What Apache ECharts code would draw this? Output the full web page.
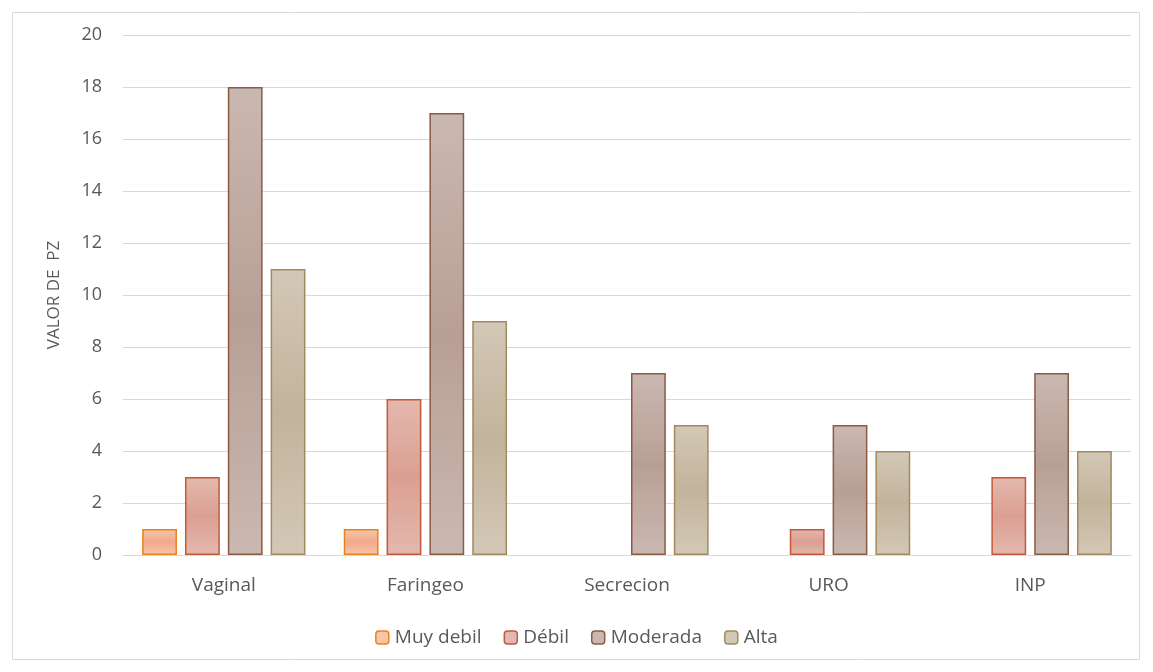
<!DOCTYPE html>
<html><head><meta charset="utf-8">
<script src="https://cdn.jsdelivr.net/npm/echarts@6/dist/echarts.min.js"></script>
<style>html,body{margin:0;padding:0;background:#fff}#c{width:1153px;height:672px}</style>
</head><body><div id="c"></div>
<script>
const categories = ['Vaginal', 'Faringeo', 'Secrecion', 'URO', 'INP'];
const seriesNames = ['Muy debil', 'Débil', 'Moderada', 'Alta'];
const muyDebil = [1, 1, null, null, null];
const debil = [3, 6, null, 1, 3];
const moderada = [18, 17, 7, 5, 7];
const alta = [11, 9, 5, 4, 4];
const yTicks = [0, 2, 4, 6, 8, 10, 12, 14, 16, 18, 20];

const styles = [
  {inner: '#F1AA8A', outer: '#F6C6AB', border: '#E8821E'},
  {inner: '#DB9F92', outer: '#E4B8AE', border: '#C2593A'},
  {inner: '#B89F96', outer: '#C9B8B1', border: '#8D5A44'},
  {inner: '#C2B39B', outer: '#D3C8B7', border: '#A38A5E'}
];
function grad(s){
  return {type:'linear', x:0, y:0, x2:0, y2:1, colorStops:[
    {offset:0,color:s.outer},{offset:0.5,color:s.inner},{offset:1,color:s.outer}]};
}
const dataSets = [muyDebil, debil, moderada, alta];
const chart = echarts.init(document.getElementById('c'));
const font = '"Open Sans", "Liberation Sans", sans-serif';
chart.setOption({
  animation: false,
  textStyle: {fontFamily: font},
  graphic: [{type:'rect', shape:{x:12.5,y:12.5,width:1127,height:647}, style:{fill:'none', stroke:'#D9D9D9', lineWidth:1}, silent:true}],
  grid: {left:123, right:22, top:35, bottom:117},
  legend: {
    bottom: 20, left: 'center', itemWidth: 13, itemHeight: 13, itemGap: 22,
    textStyle: {color:'#595959', fontSize:19, fontFamily: font, padding:[0,0,0,1]},
    data: seriesNames.map((n,i)=>({name:n, itemStyle:{color:styles[i].outer, borderColor:styles[i].border, borderWidth:1.5}}))
  },
  xAxis: {
    type:'category', data: categories,
    axisLine:{lineStyle:{color:'#D9D9D9'}}, axisTick:{show:false},
    axisLabel:{color:'#595959', fontSize:19, margin:21, fontFamily: font}
  },
  yAxis: {
    type:'value', min:0, max:20, interval:2,
    name:'VALOR DE  PZ', nameLocation:'middle', nameGap:60, nameRotate:90,
    nameTextStyle:{color:'#595959', fontSize:17, fontFamily: font},
    axisLabel:{color:'#595959', fontSize:18, margin:21, fontFamily: font},
    splitLine:{lineStyle:{color:'#D9D9D9'}},
    axisLine:{show:false}, axisTick:{show:false}
  },
  series: dataSets.map((d,i)=>({
    name: seriesNames[i], type:'bar', data:d,
    barGap:'23%', barCategoryGap:'19%',
    itemStyle:{color:grad(styles[i]), borderColor:styles[i].border, borderWidth:1.5}
  }))
});
</script></body></html>
